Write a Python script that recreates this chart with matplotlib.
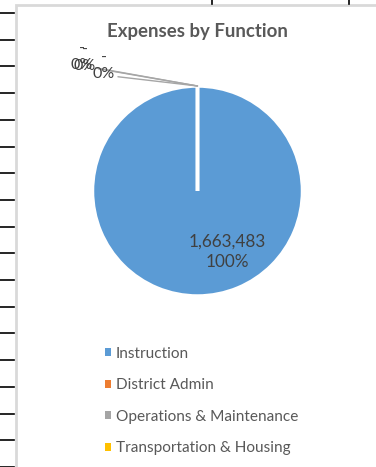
import matplotlib
matplotlib.use("Agg")
import matplotlib.pyplot as plt
from matplotlib.patches import Rectangle, Patch
import numpy as np

# expense data
functions = ["Instruction", "District Admin", "Operations & Maintenance", "Transportation & Housing"]
amounts = [1663483, 0, 0, 0]
colors = ["#5B9BD5", "#ED7D31", "#A5A5A5", "#FFC000"]

plt.rcParams["font.family"] = ["Lato", "DejaVu Sans"]

W, H = 376, 467
fig = plt.figure(figsize=(W / 100, H / 100), dpi=100)

# sheet background: cell borders to the left and above the chart object
bg = fig.add_axes([0, 0, 1, 1])
bg.set_xlim(0, W)
bg.set_ylim(H, 0)
bg.axis("off")
for y in np.arange(13, H, 26.7):
    bg.plot([0, 14], [y, y], color="black", lw=1.2)
for x in [212, 349]:
    bg.plot([x, x], [0, 4], color="black", lw=1.2)
bg.add_patch(Rectangle((15.5, 4.5), W, H, facecolor="white", edgecolor="#d9d9d9", lw=2))

bg.text(197.5, 32, "Expenses by Function", ha="center", va="center",
        fontsize=13.4, fontweight="bold", color="#595959")

# pie axes: centre (197.5, 191) px, radius 105 px
cx, cy, r = 197.5, 191, 105
ax = fig.add_axes([(cx - r) / W, 1 - (cy + r) / H, 2 * r / W, 2 * r / H])
wedges, _ = ax.pie(amounts, colors=colors, startangle=90, counterclock=False,
                   wedgeprops=dict(edgecolor="white", linewidth=2.5))
ax.set_xlim(-1, 1)
ax.set_ylim(-1, 1)

total = sum(amounts)

def fmt(v):
    return f"{v:,}" if v else "-"

# big slice label
ax.text(0.28, -0.58, f"{fmt(amounts[0])}\n{amounts[0] / total:.0%}", ha="center", va="center",
        fontsize=12.3, color="#404040", linespacing=1.3)

# zero slices: labels pulled out with leader lines to the top of the pie
label_pos = [(-1.10, 1.276), (-1.076, 1.267), (-0.89, 1.19)]
for i, (lx, ly) in zip(range(1, 4), label_pos):
    ax.annotate(f"{fmt(amounts[i])}\n{amounts[i] / total:.0%}", xy=(0, 1), xytext=(lx, ly),
                ha="center", va="center", fontsize=11.5, color="#404040", linespacing=1.15,
                annotation_clip=False,
                arrowprops=dict(arrowstyle="-", color="#a6a6a6", lw=1,
                                relpos=(1, 0.15), shrinkA=0, shrinkB=0))

handles = [Patch(facecolor=c, edgecolor="none") for c in colors]
fig.legend(handles, functions, loc="upper left", bbox_to_anchor=(97 / W, 1 - 339 / H),
           frameon=False, fontsize=11.1, labelcolor="#595959", handlelength=0.42,
           handleheight=0.42, handletextpad=0.3, labelspacing=1.14, borderpad=0)

fig.savefig("out.png", dpi=100)
